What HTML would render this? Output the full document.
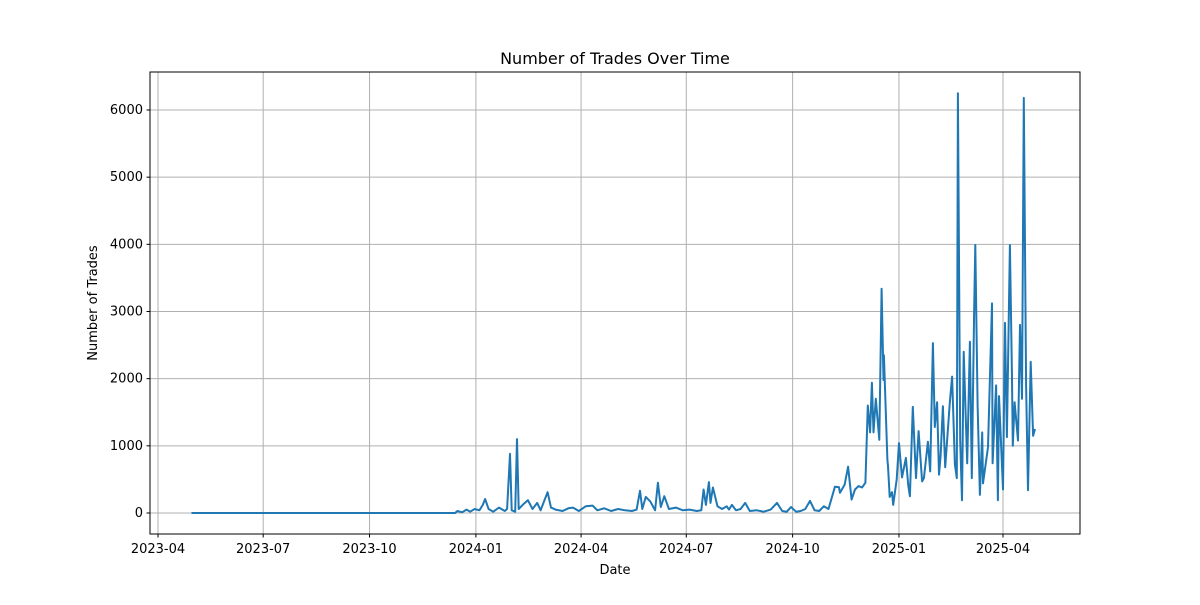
<!DOCTYPE html>
<html><head><meta charset="utf-8"><style>
body{margin:0;background:#fff;}
svg text{font-family:"DejaVu Sans","Liberation Sans",sans-serif;fill:#000;}
</style></head><body>
<svg id="chart" width="1200" height="600">
<rect width="1200" height="600" fill="#fff"/>
<g id="grid"></g>
<g id="series"></g>
<rect x="150" y="72" width="930" height="462" fill="none" stroke="#000" stroke-width="1"/>
<g id="ticks"></g>
<text x="615" y="64" font-size="16" text-anchor="middle">Number of Trades Over Time</text>
<text x="615" y="574" font-size="13" text-anchor="middle">Date</text>
<text x="97" y="303" font-size="13" text-anchor="middle" transform="rotate(-90 97 303)">Number of Trades</text>
</svg>
<script>
// days since 2023-04-01
const days = [29,100,200,257,259,263,267,270,274,278,281,283,286,290,295,300,302,304.5,306,309,310.6,312,316,320,324,328,331,337,340,344,350,355,359,364,370,376,380,386,392,398,404,410,414,417,419,422,426,430,432.5,435,438,442,448,454,460,466,470,472,474,476.6,478,480,484,488,492,494,496.5,500,504,508,512,518,524,530,535.5,540,544,547.6,552,556,560,564,568,572,576,580,585.6,589,590,594,597,600,603,606,609,612,614,616,617.6,619,621,624,626,627.6,628,631,631.5,633,635,636,639,641,643.6,647,649,650.5,653,655.7,658,661,662.6,666,668,670.4,672,674,675.6,677,679,681,685,687,689.4,691,692,694,695.5,697,700,702.4,704,706,707,709,711,713,713.7,718,721.5,722,725,726.6,727.5,731,732.7,734.4,737,738.7,739.5,741,744,745.7,747.4,749,751,752.6,755,757,758.7,760,761];
const trades = [0,0,0,0,30,10,50,20,60,40,120,208,60,20,80,30,60,880,40,20,1100,60,130,190,60,150,40,310,80,50,30,70,80,30,100,110,40,70,30,60,40,30,50,330,60,240,170,40,450,90,250,60,80,40,50,30,40,350,120,460,150,380,100,60,100,50,120,40,60,150,30,40,20,50,150,30,20,90,20,30,60,180,40,30,100,60,390,385,300,420,690,200,350,400,380,450,1600,1200,1940,1200,1700,1090,3340,1980,2350,790,700,240,310,120,500,1040,530,820,420,250,1580,520,1220,470,520,1060,620,2530,1280,1650,570,850,1590,680,1640,2030,720,520,6250,1080,190,2400,740,2550,520,2970,3990,1610,270,1200,440,980,3120,740,1900,190,1740,350,2830,1130,3990,2110,1000,1650,1080,2800,1700,6180,1900,340,2250,1150,1250];
const yTicks = [0,1000,2000,3000,4000,5000,6000];
const xTickDays = [0,91,183,275,366,457,549,641,731];
const xTickLabels = ["2023-04","2023-07","2023-10","2024-01","2024-04","2024-07","2024-10","2025-01","2025-04"];

const NS="http://www.w3.org/2000/svg";
const xS = d => 158 + d*(845/731);
const yS = v => 513 - v*0.06717;
const grid=document.getElementById('grid'), ticks=document.getElementById('ticks'), series=document.getElementById('series');
function mk(tag, attrs, parent){const e=document.createElementNS(NS,tag);for(const k in attrs)e.setAttribute(k,attrs[k]);parent.appendChild(e);return e;}
yTicks.forEach(v=>{
  const y=yS(v);
  const g=mk('line',{x1:150,x2:1080,y1:y,y2:y,stroke:'#b0b0b0','stroke-width':1},grid);
  
  
  mk('line',{x1:146.5,x2:150,y1:y,y2:y,stroke:'#000'},ticks);
  const t=mk('text',{x:143,y:y+4,'font-size':13,'text-anchor':'end'},ticks);
  t.textContent=v;
  
  
});
xTickDays.forEach((d,i)=>{
  const x=xS(d);
  const g=mk('line',{x1:x,x2:x,y1:72,y2:534,stroke:'#b0b0b0','stroke-width':1},grid);
  
  
  mk('line',{x1:x,x2:x,y1:534,y2:537.5,stroke:'#000'},ticks);
  const t=mk('text',{x:x,y:553,'font-size':13,'text-anchor':'middle'},ticks);
  t.textContent=xTickLabels[i];
  
  
});
const pts=days.map((d,i)=>xS(d).toFixed(1)+','+yS(trades[i]).toFixed(1)).join(' ');
const line=mk('polyline',{points:pts,fill:'none',stroke:'#1f77b4','stroke-width':2,'stroke-linejoin':'round'},series);


</script>
</body></html>
